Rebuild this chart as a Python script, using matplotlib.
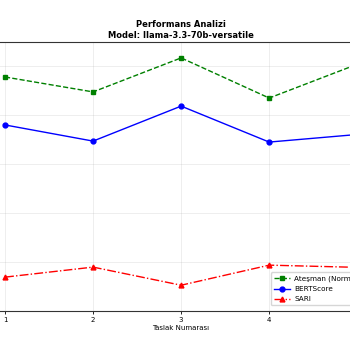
import matplotlib
matplotlib.use("Agg")
import matplotlib.pyplot as plt

drafts = [1, 2, 3, 4, 5]
atesman = [0.957, 0.896, 1.035, 0.871, 1.009]
bertscore = [0.761, 0.695, 0.838, 0.691, 0.722]
sari = [0.139, 0.180, 0.106, 0.188, 0.179]

fig = plt.figure(figsize=(3.5, 3.5), dpi=100)
# the axes is wider than the figure, as in the reference
ax = fig.add_axes([-0.036, 0.111, 1.107, 0.769])

ax.plot(drafts, atesman, color='green', linestyle='--', marker='s',
        markersize=3.5, linewidth=1, label='Ateşman (Normalized)')
ax.plot(drafts, bertscore, color='blue', linestyle='-', marker='o',
        markersize=3.5, linewidth=1, label='BERTScore')
ax.plot(drafts, sari, color='red', linestyle='-.', marker='^',
        markersize=3.5, linewidth=1, label='SARI')

ax.set_ylim(0, 1.1)
ax.set_xticks(drafts)
ax.tick_params(labelsize=5, length=2.5, width=0.6, pad=2)
ax.grid(True, alpha=0.3, linewidth=0.5)
for s in ax.spines.values():
    s.set_linewidth(0.8)
    s.set_color('#333333')

ax.set_xlabel('Taslak Numarası', fontsize=5, labelpad=1.5)
ax.set_title('Performans Analizi\nModel: llama-3.3-70b-versatile',
             fontsize=6, fontweight='bold', pad=3, linespacing=1.3)
ax.legend(loc='lower left', bbox_to_anchor=(0.722, 0.008), fontsize=5.2,
          framealpha=0.8, handlelength=2.2, borderpad=0.45,
          labelspacing=0.55, handletextpad=0.6)

fig.savefig('out.png', dpi=100)
